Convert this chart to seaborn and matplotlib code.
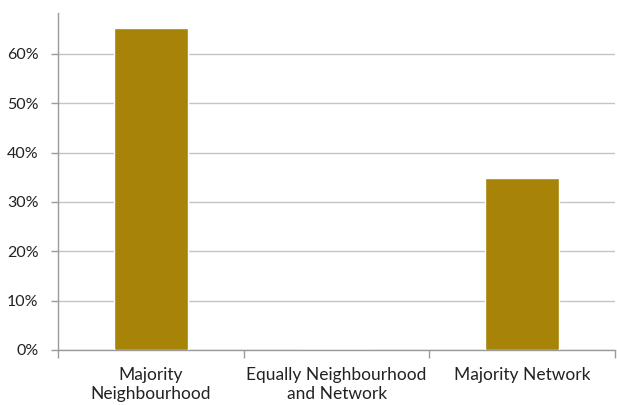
import matplotlib
matplotlib.use("Agg")
import matplotlib.pyplot as plt
import seaborn as sns
import pandas as pd
from matplotlib.ticker import PercentFormatter, FixedLocator

categories = ["Majority\nNeighbourhood", "Equally Neighbourhood\nand Network", "Majority Network"]
shares = [0.652, 0.0, 0.348]

df = pd.DataFrame({"category": categories, "share": shares})

sns.set_theme(style="white")
plt.rcParams["font.family"] = ["Lato", "DejaVu Sans"]

fig = plt.figure(figsize=(6.17, 4.05), dpi=100)
ax = fig.add_axes([0.094, 0.136, 0.903, 0.832])

sns.barplot(data=df, x="category", y="share", color="#A78307", width=0.4,
            saturation=1, ax=ax, zorder=3)

ax.set_ylim(0, 0.683)
ax.set_xlim(-0.5, 2.5)
ax.set_yticks([0, 0.1, 0.2, 0.3, 0.4, 0.5, 0.6])
ax.yaxis.set_major_formatter(PercentFormatter(1.0, decimals=0))
ax.grid(axis="y", color="#c4c4c4", linewidth=1, zorder=0)
ax.set_xlabel("")
ax.set_ylabel("")

for side in ["top", "right"]:
    ax.spines[side].set_visible(False)
for side in ["left", "bottom"]:
    ax.spines[side].set_color("#9a9a9a")
    ax.spines[side].set_linewidth(1)

ax.tick_params(axis="y", which="major", length=5, width=1, color="#9a9a9a",
               labelsize=11.5, labelcolor="#222222", pad=9, left=True)
ax.tick_params(axis="x", which="major", length=0, labelsize=12.5,
               labelcolor="#222222", pad=12)
for lbl in ax.get_xticklabels():
    lbl.set_linespacing(1.3)
ax.xaxis.set_minor_locator(FixedLocator([-0.5, 0.5, 1.5, 2.5]))
ax.tick_params(axis="x", which="minor", length=6, width=1, color="#9a9a9a",
               bottom=True)

fig.savefig("out.png", dpi=100)
